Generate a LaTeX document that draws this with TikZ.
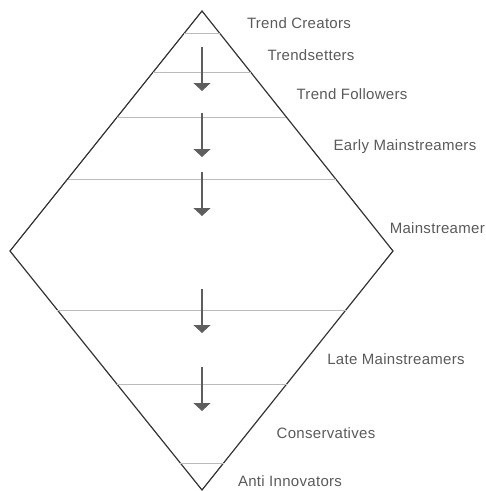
\documentclass[tikz,border=0pt]{standalone}
\usepackage{fontspec}
\setmainfont{Liberation Sans}[LetterSpace=2]
\usetikzlibrary{arrows.meta,calc}
\definecolor{edgecol}{HTML}{333333}
\definecolor{bandcol}{HTML}{BBBBBB}
\definecolor{arrcol}{HTML}{5E5E5E}
\definecolor{txtcol}{HTML}{5A5A5A}
\tikzset{
  outline/.style={draw=edgecol, line width=1.2pt, line join=miter},
  band/.style={draw=bandcol, line width=0.8pt},
  flow/.style={draw=arrcol, line width=1.1pt, -{Triangle[width=17pt,length=8pt]}, arrcol},
  lbl/.style={text=txtcol, font=\fontsize{15}{17}\selectfont, inner sep=0pt, anchor=center}
}
\begin{document}
\begin{tikzpicture}[x=1pt,y=-1pt]
\useasboundingbox (0,0) rectangle (486,491);
\coordinate (top) at (202,11);
\coordinate (left) at (10,251);
\coordinate (right) at (393,251);
\coordinate (bot) at (202,490);
\draw[outline] (top) -- (right) -- (bot) -- (left) -- cycle;
% bands
\foreach \t in {0.0917,0.254,0.442,0.7}{
  \draw[band] ($(top)!\t!(left)$) -- ($(top)!\t!(right)$);
}
\foreach \t in {0.753,0.4435,0.113}{
  \draw[band] ($(bot)!\t!(left)$) -- ($(bot)!\t!(right)$);
}
% arrows
\coordinate (a1s) at (202,47);  \coordinate (a1e) at (202,91);
\coordinate (a2s) at (202,113); \coordinate (a2e) at (202,157);
\coordinate (a3s) at (202,172); \coordinate (a3e) at (202,216);
\coordinate (a4s) at (202,289); \coordinate (a4e) at (202,333);
\coordinate (a5s) at (202,367); \coordinate (a5e) at (202,411);
\draw[flow] (a1s) -- (a1e);
\draw[flow] (a2s) -- (a2e);
\draw[flow] (a3s) -- (a3e);
\draw[flow] (a4s) -- (a4e);
\draw[flow] (a5s) -- (a5e);
% labels
\node[lbl] (l1) at (299,23) {Trend Creators};
\node[lbl] (l2) at (311,55) {Trendsetters};
\node[lbl] (l3) at (352,94) {Trend Followers};
\node[lbl] (l4) at (405,147) {Early Mainstreamers};
\node[lbl, anchor=east] (l5) at (485,228) {Mainstreamer};
\node[lbl] (l6) at (396,359) {Late Mainstreamers};
\node[lbl] (l7) at (326,433) {Conservatives};
\node[lbl] (l8) at (290,481) {Anti Innovators};
\end{tikzpicture}
\end{document}
